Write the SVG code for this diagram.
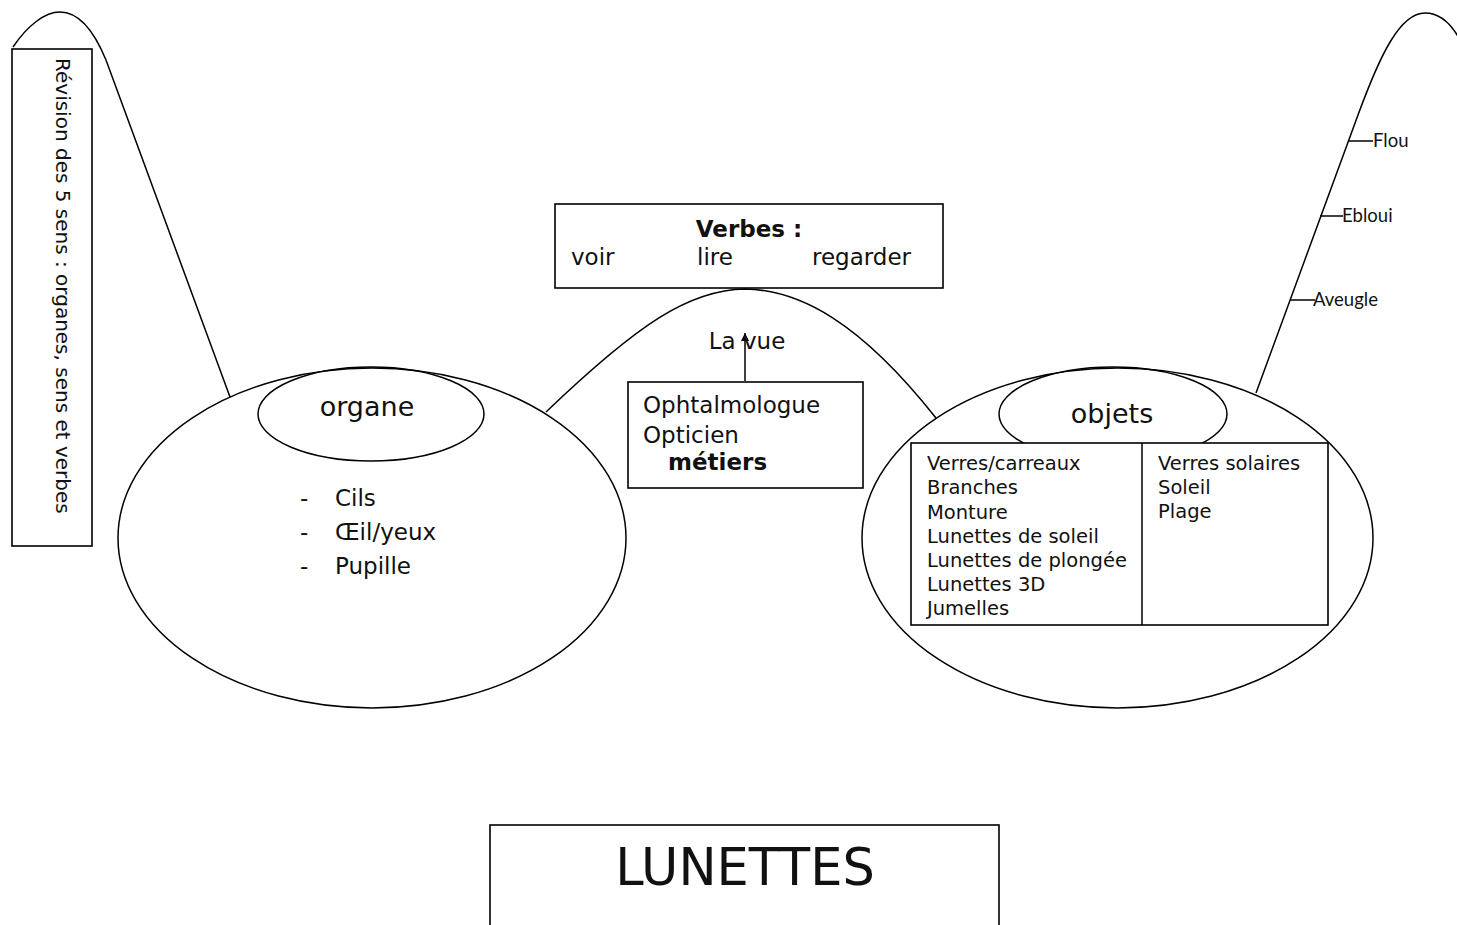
<svg xmlns="http://www.w3.org/2000/svg" width="1457" height="925" viewBox="0 0 1457 925">
<style>
.ln{fill:none;stroke:#000;stroke-width:1.5}
.bx{fill:#fff;stroke:#000;stroke-width:1.6}
.t{font-family:"DejaVu Sans",Verdana,sans-serif;fill:#111}
.c{font-family:Lato,"DejaVu Sans",sans-serif;fill:#111;font-size:18.5px}
</style>
<defs>
<marker id="ah" viewBox="0 0 10 10" refX="10" refY="5" markerWidth="9" markerHeight="8" orient="auto" markerUnits="userSpaceOnUse">
<path d="M0 0 L10 5 L0 10 Z" fill="#000"/>
</marker>
</defs>
<rect width="1457" height="925" fill="#fff"/>
<g id="connectors">
<path class="ln" d="M 13 47 C 28 25, 45 12, 60 12 C 76 12, 92 26, 106 60 L 230 397"/>
<path class="ln" d="M 546 412 C 640 322, 690 290, 745 289 C 800 290, 860 322, 936 418"/>
<path class="ln" d="M 1256 393 L 1358 115 C 1380 55, 1400 13, 1425 13 C 1440 13, 1452 25, 1460 40"/>
<line class="ln" x1="745" y1="381" x2="745" y2="333" marker-end="url(#ah)"/>
<line class="ln" x1="1348" y1="141" x2="1373" y2="141"/>
<line class="ln" x1="1320" y1="216" x2="1343" y2="216"/>
<line class="ln" x1="1290" y1="300" x2="1315" y2="300"/>
</g>
<g id="revision">
<rect class="bx" x="12" y="49" width="80" height="497"/>
<text class="t" font-size="20" transform="translate(56,58) rotate(90)">Révision des 5 sens : organes, sens et verbes</text>
</g>
<g id="verbes">
<rect class="bx" x="555" y="204" width="388" height="84"/>
<text class="t" font-size="23" font-weight="bold" x="749" y="237" text-anchor="middle">Verbes :</text>
<text class="t" font-size="23" x="571" y="265">voir</text>
<text class="t" font-size="23" x="697" y="265">lire</text>
<text class="t" font-size="23" x="812" y="265">regarder</text>
</g>
<g id="lavue">
<text class="t" font-size="23" x="747" y="349" text-anchor="middle">La vue</text>
</g>
<g id="metiers">
<rect class="bx" x="628" y="382" width="235" height="106"/>
<text class="t" font-size="23" x="643" y="413">Ophtalmologue</text>
<text class="t" font-size="23" x="643" y="443">Opticien</text>
<text class="t" font-size="23" font-weight="bold" x="668" y="470">métiers</text>
</g>
<g id="organe">
<ellipse class="ln" cx="372" cy="538" rx="254" ry="170"/>
<ellipse class="ln" cx="371" cy="414" rx="113" ry="47"/>
<text class="t" font-size="27" x="367" y="416" text-anchor="middle">organe</text>
<text class="t" font-size="23" x="300" y="506">-</text>
<text class="t" font-size="23" x="335" y="506">Cils</text>
<text class="t" font-size="23" x="300" y="540">-</text>
<text class="t" font-size="23" x="335" y="540">Œil/yeux</text>
<text class="t" font-size="23" x="300" y="574">-</text>
<text class="t" font-size="23" x="335" y="574">Pupille</text>
</g>
<g id="objets">
<ellipse class="ln" cx="1117.5" cy="538" rx="255.5" ry="170"/>
<ellipse class="ln" cx="1113" cy="414" rx="114" ry="47"/>
<text class="t" font-size="27" x="1112" y="423" text-anchor="middle">objets</text>
<rect class="bx" x="911" y="443" width="417" height="182"/>
<line class="ln" x1="1142" y1="443" x2="1142" y2="625"/>
<g class="t" font-size="19.5">
<text x="927" y="470">Verres/carreaux</text>
<text x="927" y="494">Branches</text>
<text x="927" y="519">Monture</text>
<text x="927" y="543">Lunettes de soleil</text>
<text x="927" y="567">Lunettes de plongée</text>
<text x="927" y="591">Lunettes 3D</text>
<text x="927" y="615">Jumelles</text>
<text x="1158" y="470">Verres solaires</text>
<text x="1158" y="494">Soleil</text>
<text x="1158" y="518">Plage</text>
</g>
</g>
<g id="effets">
<text class="c" x="1373" y="147">Flou</text>
<text class="c" x="1342" y="222">Ebloui</text>
<text class="c" x="1313" y="306">Aveugle</text>
</g>
<g id="lunettes">
<rect class="bx" x="490" y="825" width="509" height="110"/>
<text class="t" font-size="51" x="745" y="885" text-anchor="middle">LUNETTES</text>
</g>
</svg>
